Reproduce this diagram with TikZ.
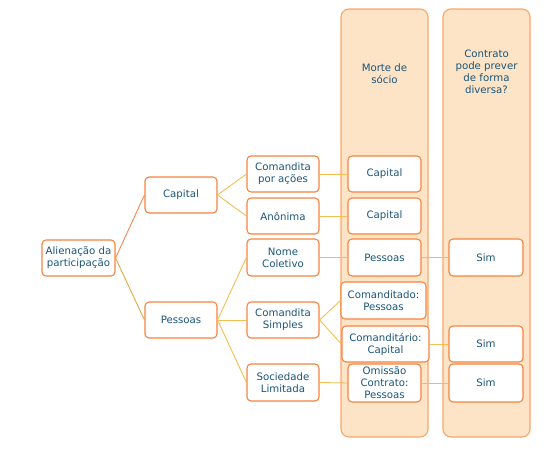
\documentclass[tikz,border=0pt]{standalone}
\usepackage{fontspec}
\setmainfont{DejaVu Sans}
\definecolor{txt}{HTML}{1A5579}
\definecolor{boxline}{HTML}{F5843F}
\definecolor{colline}{HTML}{F8A66B}
\definecolor{colfill}{HTML}{FDE4C7}
\definecolor{lnA}{HTML}{F5884A}
\definecolor{lnB}{HTML}{DDAA4A}
\definecolor{lnC}{HTML}{F2BE52}
\begin{document}
\begin{tikzpicture}[x=1pt,y=-1pt,
  every node/.style={font=\fontsize{10.2}{12}\selectfont, text=txt, align=center, inner sep=0pt},
  bx/.style={draw=boxline, line width=1.1pt, fill=white, rounded corners=4pt, minimum width=72pt, minimum height=36pt},
  colbox/.style={draw=colline, line width=1.1pt, fill=colfill, rounded corners=8pt},
  ln/.style={draw=lnC, line width=0.9pt}]
\useasboundingbox (0,0) rectangle (545,448);
% columns
\node[colbox, minimum width=87pt, minimum height=428pt] (col1) at (384.5,223) {};
\node[colbox, minimum width=87pt, minimum height=428pt] (col2) at (486.5,223) {};
\node (colt1) at (384.5,74) {Morte de\\sócio};
\node (colt2) at (486.5,72) {Contrato\\pode prever\\de forma\\diversa?};
% tree
\node[bx, minimum width=73pt] (ali) at (78.5,258) {Alienação da\\participação};
\node[bx] (cap) at (181,195) {Capital};
\node[bx] (pes) at (181,320) {Pessoas};
\node[bx] (cpa) at (283,174) {Comandita\\por ações};
\node[bx] (ano) at (283,216) {Anônima};
\node[bx, minimum height=37pt] (nco) at (283,257.5) {Nome\\Coletivo};
\node[bx] (csi) at (283,320) {Comandita\\Simples};
\node[bx, minimum height=37pt] (sli) at (283,382.5) {Sociedade\\Limitada};
% column 1
\node[bx, minimum width=73pt] (m1) at (384.5,174) {Capital};
\node[bx, minimum width=73pt] (m2) at (384.5,216) {Capital};
\node[bx, minimum width=73pt, minimum height=37pt] (m3) at (384.5,257.5) {Pessoas};
\node[bx, minimum width=85pt, minimum height=37pt] (m4) at (383.5,300.5) {Comanditado:\\Pessoas};
\node[bx, minimum width=87pt] (m5) at (385.5,344) {Comanditário:\\Capital};
\node[bx, minimum width=73pt, minimum height=38pt] (m6) at (384.5,383) {Omissão\\Contrato:\\Pessoas};
% column 2
\node[bx, minimum width=74pt, minimum height=37pt] (s1) at (486,257.5) {Sim};
\node[bx, minimum width=74pt] (s2) at (486,344) {Sim};
\node[bx, minimum width=74pt, minimum height=38pt] (s3) at (486,383) {Sim};
% connectors
\draw[draw=lnA, line width=0.9pt] (ali.east) -- (cap.west);
\draw[draw=lnB, line width=0.9pt] (ali.east) -- (pes.west);
\draw[ln] (cap.east) -- (cpa.west);
\draw[ln] (cap.east) -- (ano.west);
\draw[ln] (pes.east) -- (nco.west);
\draw[ln] (pes.east) -- (csi.west);
\draw[ln] (pes.east) -- (sli.west);
\draw[ln] (cpa.east) -- (m1.west);
\draw[ln] (ano.east) -- (m2.west);
\draw[ln] (nco.east) -- (m3.west);
\draw[ln] (m3.east) -- (s1.west);
\draw[ln] (csi.east) -- (m4.west);
\draw[ln] (csi.east) -- (m5.west);
\draw[ln] (m5.east) -- (s2.west);
\draw[ln] (sli.east) -- (m6.west);
\draw[ln] (m6.east) -- (s3.west);
\end{tikzpicture}
\end{document}
